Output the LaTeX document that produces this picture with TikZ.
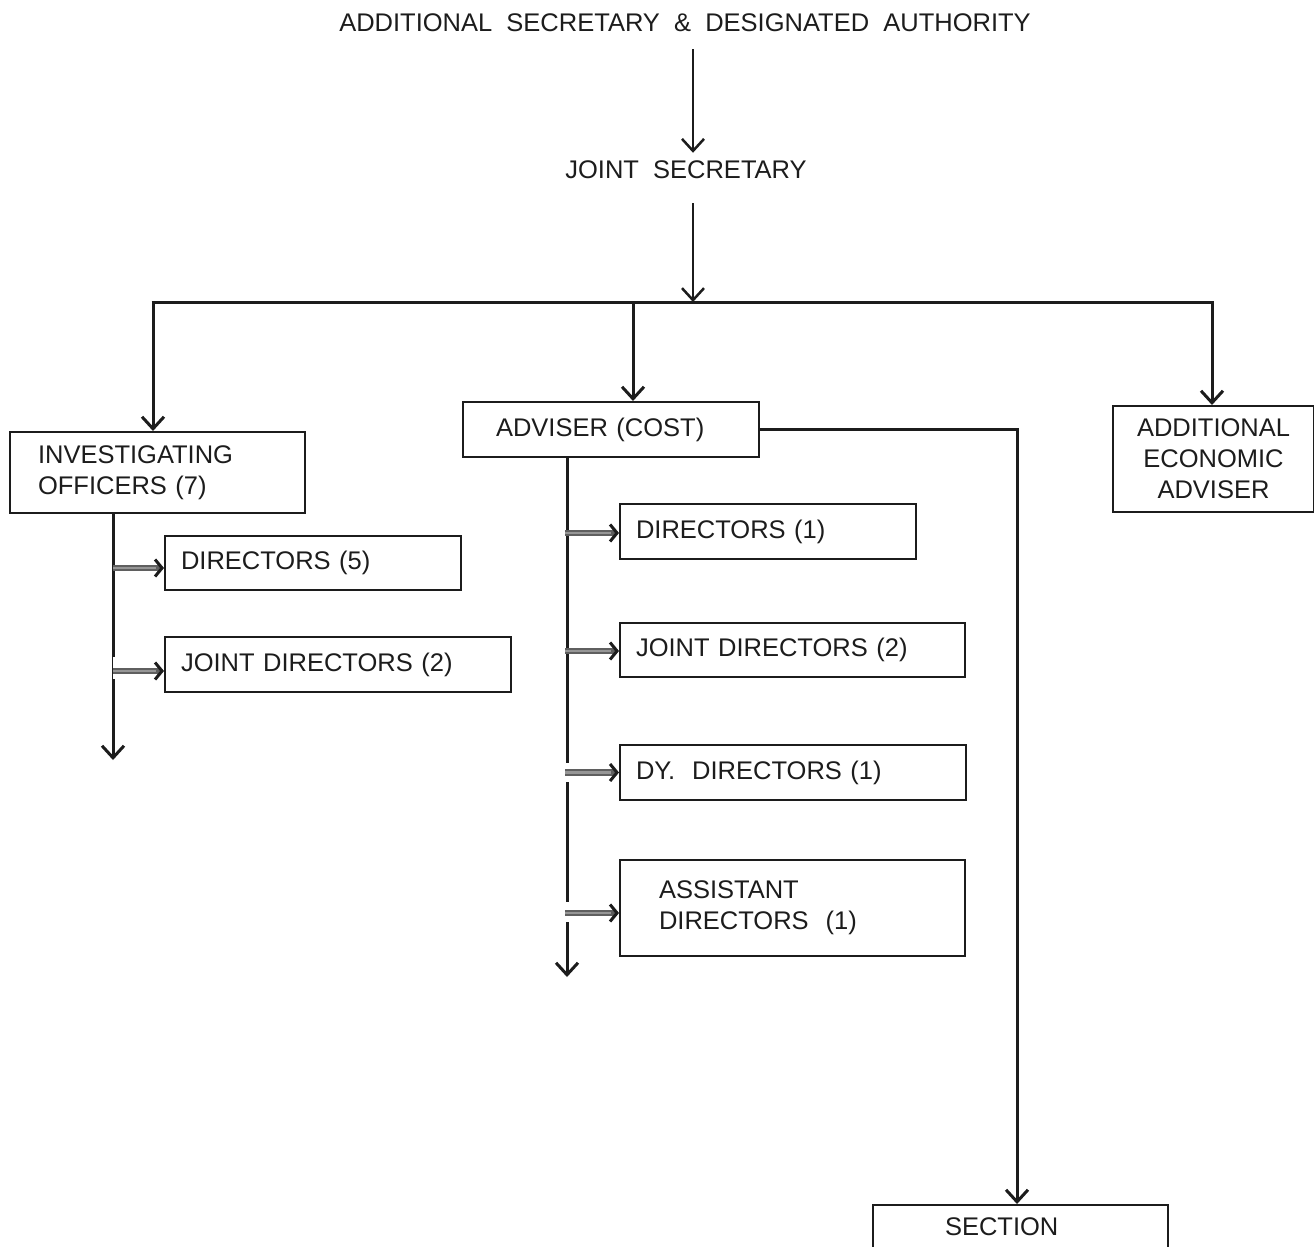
\documentclass[tikz,border=0pt]{standalone}
\usepackage{fontspec}
\setmainfont{Liberation Sans}
\usetikzlibrary{arrows.meta,calc}
\definecolor{ink}{RGB}{28,28,28}
\definecolor{feedout}{RGB}{95,95,95}
\definecolor{feedin}{RGB}{150,150,150}
\begin{document}
\begin{tikzpicture}[x=1pt,y=-1pt,
  every node/.style={font=\fontsize{25.5}{31}\selectfont, text=ink},
  box/.style={draw=ink, line width=2pt, rectangle, anchor=north west, inner ysep=0pt, align=left},
  conn/.style={draw=ink, line width=3pt},
  thinc/.style={draw=ink, line width=2.5pt},
  tipd/.style={-{Straight Barb[length=12pt,width=22pt]}},
  feedo/.style={draw=feedout, line width=6.5pt, -{Straight Barb[length=7pt,width=17pt,color=ink,line width=3pt]}},
  feedi/.style={draw=feedin, line width=2.4pt, shorten >=8pt},
  gap/.style={draw=white, line width=5pt}
]
\useasboundingbox (0,0) rectangle (1314,1247);
\clip (0,0) rectangle (1314,1247);

% top chain
\node[inner sep=0pt] (asda) at (685,23) {ADDITIONAL\ \ SECRETARY\ \ \&\ \ DESIGNATED\ \ AUTHORITY};
\node[inner sep=0pt] (js) at (686,170) {JOINT\ \ SECRETARY};
\coordinate (hl) at (153,302);
\coordinate (hm) at (633,302);
\coordinate (hj) at (693,302);
\coordinate (hr) at (1212,302);

% boxes
\node[box, text width=239pt, inner xsep=28pt, minimum height=81pt] (io) at (9,431) {INVESTIGATING\\OFFICERS (7)};
\node[box, text width=230pt, inner xsep=33pt, minimum height=55pt] (adv) at (462,401) {ADVISER (COST)};
\node[box, text width=181pt, inner xsep=10pt, minimum height=106pt, align=center] (aea) at (1112,405) {ADDITIONAL\\ECONOMIC\\ADVISER};

\node[box, text width=264pt, inner xsep=16pt, minimum height=54pt] (d5) at (164,535) {DIRECTORS (5)};
\node[box, text width=314pt, inner xsep=16pt, minimum height=55pt] (jdl) at (164,636) {JOINT DIRECTORS (2)};

\node[box, text width=264pt, inner xsep=16pt, minimum height=55pt] (d1) at (619,503) {DIRECTORS (1)};
\node[box, text width=313pt, inner xsep=16pt, minimum height=54pt] (jdm) at (619,622) {JOINT DIRECTORS (2)};
\node[box, text width=314pt, inner xsep=16pt, minimum height=55pt] (dy) at (619,744) {DY.\ \ DIRECTORS (1)};
\node[box, text width=267pt, inner xsep=39pt, minimum height=96pt] (ad) at (619,859) {ASSISTANT\\DIRECTORS\ \ (1)};

\node[box, text width=151pt, inner xsep=72pt, text height=30pt, text depth=30pt] (sec) at (872,1204) {SECTION};

% top arrows
\draw[thinc,tipd] ($(asda.south)+(8,17)$) -- ($(js.north)+(7,-8)$);
\draw[thinc,tipd] ($(js.south)+(7,24)$) -- (hj);

% distribution line
\draw[conn] ($(hl)+(-1.5,0)$) -- ($(hr)+(1.5,0)$);
\draw[conn,tipd] (hl) -- (hl |- io.north);
\draw[conn,tipd] (hm) -- (hm |- adv.north);
\draw[conn,tipd] (hr) -- (hr |- aea.north);

% adviser to section
\coordinate (secx) at (1017,0);
\draw[conn,tipd] (adv.east) -| (secx |- sec.north);

% left column
\coordinate (lend) at (113,760);
\draw[conn,tipd] (lend |- io.south) -- (lend);
\draw[draw=white, line width=3pt] (114.5,657) -- (114.5,679);
\path ([yshift=-5pt]d5.west) coordinate (f1);
\path ([yshift=-6.5pt]jdl.west) coordinate (f2);
\draw[feedo] (lend |- f1) -- (f1);
\draw[feedi] (lend |- f1) -- (f1);
\draw[feedo] (lend |- f2) -- (f2);
\draw[feedi] (lend |- f2) -- (f2);

% middle column
\coordinate (mend) at (567,977);
\draw[conn,tipd] (mend |- adv.south) -- (mend);
\draw[gap] (567,763) -- (567,782);
\draw[gap] (567,902) -- (567,922);
\path ([yshift=-1.5pt]d1.west) coordinate (g1);
\path ([yshift=-1pt]jdm.west) coordinate (g2);
\path (dy.west) coordinate (g3);
\path ([yshift=-5pt]ad.west) coordinate (g4);
\foreach \g in {g1,g2,g3,g4}{
  \draw[feedo] ($(mend |- \g)+(-2,0)$) -- (\g);
  \draw[feedi] ($(mend |- \g)+(-2,0)$) -- (\g);
}
\end{tikzpicture}
\end{document}
